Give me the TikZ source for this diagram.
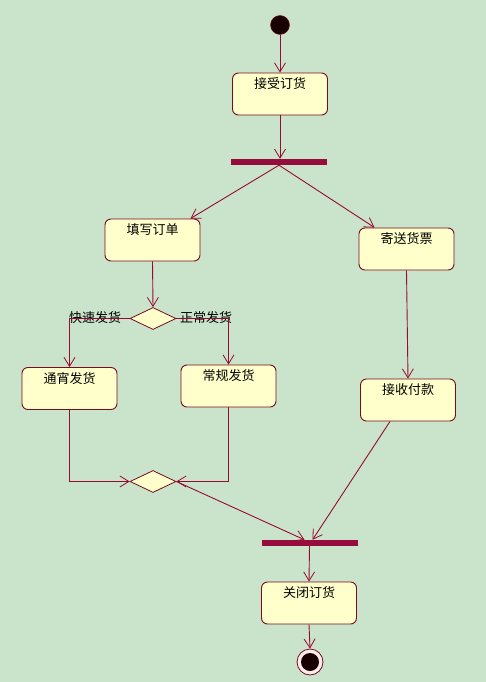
\documentclass[tikz,border=0pt]{standalone}
\usepackage{fontspec}
\newfontfamily\cjk{Noto Sans CJK SC}
\usetikzlibrary{arrows.meta,shapes.geometric,calc}
\definecolor{bg}{HTML}{C9E4CB}
\definecolor{boxfill}{HTML}{FFFFCC}
\definecolor{boxline}{HTML}{7A0A1E}
\definecolor{wire}{HTML}{990A33}
\definecolor{barc}{HTML}{960C3C}
\tikzset{
  actbox/.style={draw=boxline, fill=boxfill, rounded corners=6pt, line width=0.9pt,
    minimum width=95pt, inner xsep=0pt, inner ysep=3pt,
    text height=12.5pt, text depth=23.5pt, font=\cjk\fontsize{13}{15}\selectfont},
  syncbar/.style={fill=barc, draw=none, minimum width=96pt, minimum height=6pt, inner sep=0pt},
  decision/.style={diamond, draw=boxline, fill=boxfill, line width=0.8pt,
    minimum width=46pt, minimum height=22pt, inner sep=0pt},
  guard/.style={font=\cjk\fontsize{13}{15}\selectfont, inner sep=0pt},
  flow/.style={draw=wire, line width=0.9pt, -{Straight Barb[length=9pt,width=11pt,line width=0.8pt]}},
}
\begin{document}
\begin{tikzpicture}[x=1pt,y=-1pt]
\path[fill=bg] (0,0) rectangle (486,682);
\useasboundingbox (0,0) rectangle (486,682);

\node[circle, fill=black!90!red, draw=boxline, minimum size=19pt, inner sep=0pt] (start) at (280,25) {};
\node[actbox] (accept) at (280,94) {接受订货};
\node[syncbar] (fork) at (279,162) {};
\node[actbox] (fill) at (152.5,240) {填写订单};
\node[actbox] (send) at (406.5,249) {寄送货票};
\node[decision] (d1) at (153,318.5) {};
\node[guard] (gfast) at (95,318) {快速发货};
\node[guard] (gnorm) at (206,318) {正常发货};
\node[actbox] (night) at (69.5,388.5) {通宵发货};
\node[actbox] (normal) at (228.5,386) {常规发货};
\node[actbox] (pay) at (408,400) {接收付款};
\node[decision] (d2) at (153,481.5) {};
\node[syncbar] (join) at (309.5,543) {};
\node[actbox] (close) at (309,603) {关闭订货};
\node[circle, draw=boxline, fill=red!8, line width=0.8pt, minimum size=26pt, inner sep=0pt] (end) at (310,662) {};
\node[circle, fill=black!90!red, minimum size=18pt, inner sep=0pt] (endin) at (end) {};

\draw[flow] (start) -- (accept.north);
\draw[flow] (accept.south) -- (accept.south |- fork.north);
\draw[flow] (fork.south) -- ([xshift=-10pt]fill.north east);
\draw[flow] (fork.south) -- ([xshift=16pt]send.north west);
\draw[flow] (fill.south) -- (d1.north);
\draw[flow] (d1.west) -| (night.north);
\draw[flow] (d1.east) -| (normal.north);
\draw[flow] (night.south) |- (d2.west);
\draw[flow] (normal.south) |- (d2.east);
\draw[flow] (d2.east) -- ([xshift=-5pt]join.north);
\draw[flow] (send.south) -- (pay.north);
\draw[flow] ([xshift=-18pt]pay.south) -- ([xshift=3pt]join.north);
\draw[flow] (join.south) -- (close.north);
\draw[flow] (close.south) -- (end.north);
\end{tikzpicture}
\end{document}
